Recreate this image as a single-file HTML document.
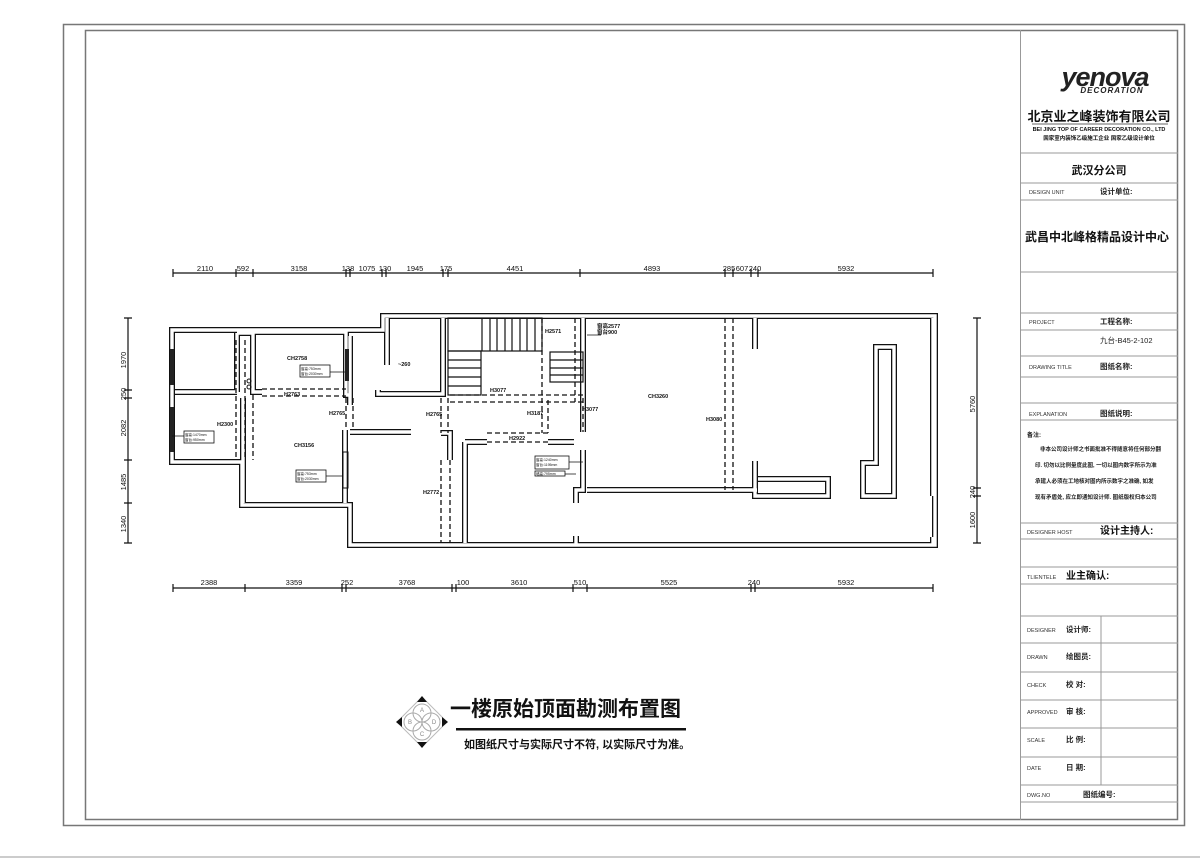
<!DOCTYPE html>
<html><head><meta charset="utf-8"><style>
html,body{margin:0;padding:0;background:#fff;}
svg{display:block;}
text{font-family:"Liberation Sans","Noto Sans CJK SC",sans-serif;}
</style></head><body>
<svg width="1200" height="859" viewBox="0 0 1200 859" xmlns="http://www.w3.org/2000/svg">
<rect width="1200" height="859" fill="#fff"/>
<rect x="63.5" y="24.5" width="1121" height="801" fill="none" stroke="#777" stroke-width="1.5"/>
<rect x="85.5" y="30.5" width="1092" height="789" fill="none" stroke="#777" stroke-width="1.5"/>
<line x1="0" y1="857" x2="1200" y2="857" stroke="#999" stroke-width="1"/>
<g stroke="#999" stroke-width="1" fill="none">
<line x1="1020.5" y1="30" x2="1020.5" y2="820"/>
<line x1="1020" y1="153" x2="1178" y2="153"/>
<line x1="1020" y1="183" x2="1178" y2="183"/>
<line x1="1020" y1="200" x2="1178" y2="200"/>
<line x1="1020" y1="272" x2="1178" y2="272"/>
<line x1="1020" y1="313" x2="1178" y2="313"/>
<line x1="1020" y1="330" x2="1178" y2="330"/>
<line x1="1020" y1="356" x2="1178" y2="356"/>
<line x1="1020" y1="377" x2="1178" y2="377"/>
<line x1="1020" y1="403" x2="1178" y2="403"/>
<line x1="1020" y1="420" x2="1178" y2="420"/>
<line x1="1020" y1="523" x2="1178" y2="523"/>
<line x1="1020" y1="539" x2="1178" y2="539"/>
<line x1="1020" y1="567" x2="1178" y2="567"/>
<line x1="1020" y1="584" x2="1178" y2="584"/>
<line x1="1020" y1="616" x2="1178" y2="616"/>
<line x1="1020" y1="643" x2="1178" y2="643"/>
<line x1="1020" y1="672" x2="1178" y2="672"/>
<line x1="1020" y1="700" x2="1178" y2="700"/>
<line x1="1020" y1="728" x2="1178" y2="728"/>
<line x1="1020" y1="757" x2="1178" y2="757"/>
<line x1="1020" y1="785" x2="1178" y2="785"/>
<line x1="1020" y1="802" x2="1178" y2="802"/>
<line x1="1101" y1="616" x2="1101" y2="785"/>
</g>
<text x="1105" y="86" font-size="27" font-weight="bold" font-style="italic" text-anchor="middle" fill="#222" letter-spacing="-1">yenova</text>
<text x="1112" y="93" font-size="8" font-weight="bold" font-style="italic" text-anchor="middle" fill="#222" letter-spacing="1">DECORATION</text>
<text x="1099" y="121" font-size="13" font-weight="bold" text-anchor="middle" fill="#111">北京业之峰装饰有限公司</text>
<line x1="1032" y1="124" x2="1168" y2="124" stroke="#333" stroke-width="0.7"/>
<text x="1099" y="131" font-size="5.5" font-weight="bold" text-anchor="middle" fill="#111">BEI JING TOP OF CAREER DECORATION CO., LTD</text>
<text x="1099" y="140" font-size="5.5" font-weight="bold" text-anchor="middle" fill="#111">国家室内装饰乙级施工企业 国家乙级设计单位</text>
<text x="1099" y="174" font-size="11" font-weight="bold" text-anchor="middle" fill="#111">武汉分公司</text>
<text x="1029" y="194" font-size="5.5" fill="#333">DESIGN UNIT</text>
<text x="1100" y="194" font-size="7.5" font-weight="bold" fill="#222">设计单位:</text>
<text x="1097" y="241" font-size="12" font-weight="bold" text-anchor="middle" fill="#111">武昌中北峰格精品设计中心</text>
<text x="1029" y="324" font-size="5.5" fill="#333">PROJECT</text>
<text x="1100" y="324" font-size="7.5" font-weight="bold" fill="#222">工程名称:</text>
<text x="1100" y="343" font-size="7.5" fill="#222">九台-B45-2-102</text>
<text x="1029" y="369" font-size="5.5" fill="#333">DRAWING TITLE</text>
<text x="1100" y="369" font-size="7.5" font-weight="bold" fill="#222">图纸名称:</text>
<text x="1029" y="416" font-size="5.5" fill="#333">EXPLANATION</text>
<text x="1100" y="416" font-size="7.5" font-weight="bold" fill="#222">图纸说明:</text>
<text x="1027" y="437" font-size="6" font-weight="bold" fill="#222">备注:</text>
<g font-size="5.5" font-weight="bold" fill="#222">
<text x="1040" y="451">非本公司设计师之书面批准不得随意将任何部分翻</text>
<text x="1035" y="467">印. 切勿以比例量度此图, 一切以图内数字所示为准</text>
<text x="1035" y="483">承建人必须在工地核对图内所示数字之准确, 如发</text>
<text x="1035" y="499">现有矛盾处, 应立即通知设计师. 图纸版权归本公司</text>
</g>
<text x="1027" y="534" font-size="5.5" fill="#333">DESIGNER HOST</text>
<text x="1100" y="534" font-size="10" font-weight="bold" fill="#111">设计主持人:</text>
<text x="1027" y="579" font-size="5.5" fill="#333">TLIENTELE</text>
<text x="1066" y="579" font-size="10" font-weight="bold" fill="#111">业主确认:</text>
<g font-size="5.5" fill="#333">
<text x="1027" y="632">DESIGNER</text><text x="1027" y="659">DRAWN</text><text x="1027" y="687">CHECK</text>
<text x="1027" y="714">APPROVED</text><text x="1027" y="742">SCALE</text><text x="1027" y="770">DATE</text>
<text x="1027" y="797">DWG.NO</text>
</g>
<g font-size="7.5" font-weight="bold" fill="#222">
<text x="1066" y="632">设计师:</text><text x="1066" y="659">绘图员:</text><text x="1066" y="687">校  对:</text>
<text x="1066" y="714">审  核:</text><text x="1066" y="742">比  例:</text><text x="1066" y="770">日  期:</text>
<text x="1083" y="797">图纸编号:</text>
</g>

<g stroke="#111" stroke-width="1.2" fill="none">
<line x1="173" y1="273" x2="933" y2="273"/>
<line x1="173" y1="588" x2="933" y2="588"/>
<line x1="128" y1="318" x2="128" y2="543"/>
<line x1="977" y1="318" x2="977" y2="543"/>
</g>
<g stroke="#111" stroke-width="1.2">
<path d="M173 269v8M236 269v8M253 269v8M346 269v8M350 269v8M382 269v8M386 269v8M443 269v8M448 269v8M580 269v8M725 269v8M733 269v8M751 269v8M758 269v8M933 269v8"/>
<path d="M173 584v8M245 584v8M342 584v8M346 584v8M452 584v8M456 584v8M573 584v8M587 584v8M751 584v8M755 584v8M933 584v8"/>
<path d="M124 318h8M124 390h8M124 398h8M124 460h8M124 503h8M124 543h8"/>
<path d="M973 318h8M973 488h8M973 496h8M973 543h8"/>
</g>
<g font-size="7.5" fill="#111" text-anchor="middle">
<text x="205" y="271">2110</text><text x="243" y="271">592</text><text x="299" y="271">3158</text>
<text x="348" y="271">138</text><text x="367" y="271">1075</text><text x="385" y="271">130</text>
<text x="415" y="271">1945</text><text x="446" y="271">175</text><text x="515" y="271">4451</text>
<text x="652" y="271">4893</text><text x="729" y="271">285</text><text x="742" y="271">607</text><text x="755" y="271">240</text>
<text x="846" y="271">5932</text>
<text x="209" y="585">2388</text><text x="294" y="585">3359</text><text x="347" y="585">252</text>
<text x="407" y="585">3768</text><text x="463" y="585">100</text><text x="519" y="585">3610</text>
<text x="580" y="585">510</text><text x="669" y="585">5525</text><text x="754" y="585">240</text><text x="846" y="585">5932</text>
</g>
<g font-size="7.5" fill="#111" text-anchor="middle">
<text transform="translate(126,360) rotate(-90)">1970</text>
<text transform="translate(126,394) rotate(-90)">250</text>
<text transform="translate(126,428) rotate(-90)">2082</text>
<text transform="translate(126,482) rotate(-90)">1485</text>
<text transform="translate(126,524) rotate(-90)">1340</text>
<text transform="translate(975,404) rotate(-90)">5760</text>
<text transform="translate(975,492) rotate(-90)">240</text>
<text transform="translate(975,520) rotate(-90)">1600</text>
</g>

<g fill="none" stroke-linejoin="miter">
<g stroke="#111" stroke-width="6">
<path d="M172 330H383V316H935V545H350V505H242V462H172Z"/>
<path d="M237 392H175M237 333V392M253 333V392H262M237 333H253M253 332H346V395H350"/>
<path d="M243 398V503M345 430V503M350 432H411M350 336V405"/>
<path d="M387 318V365M443 318V394H378V390M441 433H450V460M465 442V543M465 442H487M548 442H574M583 318V432M583 450V490H576V503"/>
<path d="M587 490H757M755 318V349M755 461V496H828V479H758M933 318V496M933 537V545M576 536V545"/>
<path d="M876 347H894V496H863V463H876Z"/>
</g>
<g stroke="#fff" stroke-width="3.4">
<path d="M172 330H383V316H935V545H350V505H242V462H172Z"/>
<path d="M237 392H175M237 333V392M253 333V392H262M237 333H253M253 332H346V395H350"/>
<path d="M243 398V503M345 430V503M350 432H411M350 336V405"/>
<path d="M387 318V365M443 318V394H378V390M441 433H450V460M465 442V543M465 442H487M548 442H574M583 318V432M583 450V490H576V503"/>
<path d="M587 490H757M755 318V349M755 461V496H828V479H758M933 318V496M933 537V545M576 536V545"/>
<path d="M876 347H894V496H863V463H876Z"/>
</g>
</g>
<g fill="#222">
<rect x="170" y="349" width="4" height="36"/><rect x="170" y="407" width="4" height="45"/>
<rect x="345" y="349" width="4" height="32"/>
</g>
<rect x="343" y="452" width="5" height="36" fill="none" stroke="#111" stroke-width="1"/>
<g stroke="#111" stroke-width="1.2" fill="none">
<rect x="448" y="318" width="94" height="33"/>
<path d="M482 318V351M490 318V351M497 318V351M505 318V351M512 318V351M520 318V351M527 318V351M535 318V351"/>
<rect x="448" y="351" width="33" height="44"/>
<path d="M448 360H481M448 368H481M448 377H481M448 386H481"/>
<rect x="550" y="352" width="33" height="30"/>
<path d="M550 360H583M550 368H583M550 375H583"/>
</g>
<g stroke="#111" stroke-width="1.3" fill="none" stroke-dasharray="5,3">
<path d="M236 340V460M245 340V460M253 395V460"/>
<path d="M262 389H346M262 396H346"/>
<path d="M346 398V430M353 398V430"/>
<path d="M441 398V433M448 398V433M441 460V543M450 460V543"/>
<path d="M450 395H583M450 402H583"/>
<path d="M487 433H548M487 442H548"/>
<path d="M542 318V433M548 400V433M575 318V402M583 398V432"/>
<path d="M725 318V490M733 318V490"/>
</g>
<circle cx="249" cy="381" r="2" fill="none" stroke="#111"/><circle cx="249" cy="387" r="2" fill="none" stroke="#111"/>
<g font-size="5.5" fill="#111" font-weight="bold">
<text x="287" y="360">CH2758</text><text x="294" y="447">CH3156</text><text x="398" y="366">~260</text>
<text x="284" y="396">H2763</text><text x="329" y="415">H2765</text><text x="217" y="426">H2300</text>
<text x="426" y="416">H2765</text><text x="490" y="392">H3077</text><text x="527" y="415">H3187</text>
<text x="582" y="411">H3077</text><text x="545" y="333">H2571</text><text x="509" y="440">H2922</text>
<text x="423" y="494">H2772</text><text x="648" y="398">CH3260</text><text x="706" y="421">H3080</text>
<text x="597" y="328">窗高2577</text><text x="597" y="334">窗台900</text>
</g>
<g fill="none" stroke="#111" stroke-width="0.8">
<rect x="300" y="365" width="30" height="12"/><rect x="296" y="470" width="30" height="12"/>
<rect x="184" y="431" width="30" height="12"/><rect x="535" y="456" width="34" height="13"/><rect x="535" y="471" width="30" height="5"/>
<path d="M330 372H345M326 476H343M172 436H184M569 462H583M565 474H576M587 335H601"/>
</g>
<g font-size="3.5" fill="#111"><text x="301" y="370">窗高:753mm</text><text x="301" y="375">窗台:2030mm</text>
<text x="297" y="475">窗高:753mm</text><text x="297" y="480">窗台:2030mm</text>
<text x="185" y="436">窗高:1470mm</text><text x="185" y="441">窗台:950mm</text>
<text x="536" y="461">窗高:1240mm</text><text x="536" y="466">窗台:1195mm</text><text x="536" y="475">墙高:795mm</text></g>

<g transform="translate(422,722)">
<path d="M0 -25L25 0L0 25L-25 0Z" fill="none" stroke="#bbb"/>
<circle cx="0" cy="-9" r="9" fill="#fff" stroke="#aaa"/><circle cx="0" cy="9" r="9" fill="#fff" stroke="#aaa"/>
<circle cx="-9" cy="0" r="9" fill="none" stroke="#aaa"/><circle cx="9" cy="0" r="9" fill="none" stroke="#aaa"/>
<path d="M0 -26l-5 6h10zM0 26l-5 -6h10zM-26 0l6 -5v10zM26 0l-6 -5v10z" fill="#111"/>
<g font-size="6" fill="#888" text-anchor="middle"><text x="0" y="-10">A</text><text x="-12" y="2">B</text><text x="0" y="14">C</text><text x="12" y="2">D</text></g>
</g>
<text x="450" y="716" font-size="21" font-weight="bold" fill="#111">一楼原始顶面勘测布置图</text>
<rect x="456" y="728" width="230" height="2.5" fill="#111"/>
<text x="464" y="748" font-size="11" font-weight="bold" fill="#111">如图纸尺寸与实际尺寸不符, 以实际尺寸为准。</text>
</svg>
</body></html>
